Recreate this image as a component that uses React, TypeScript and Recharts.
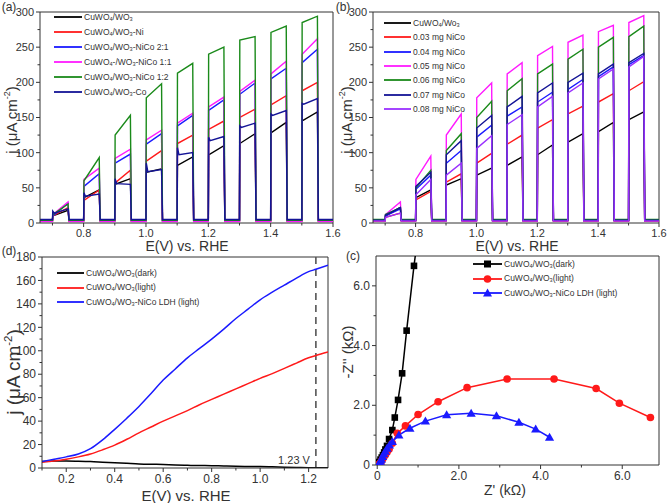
import React from "react";
import { LineChart, Line, XAxis, YAxis, ReferenceLine } from "recharts";

const FONT = "Arial, 'Liberation Sans', Helvetica, sans-serif";
const INK = "#333";

// chopped light: on at each E, off 0.05 V later
const pulseE = [0.7, 0.8, 0.9, 1.0, 1.1, 1.2, 1.3, 1.4, 1.5];
const PULSE_W = 0.05;
const chopTicks = [0.7, 0.8, 0.9, 1.0, 1.1, 1.2, 1.3, 1.4, 1.5, 1.6];
const chopMajor = [0.8, 1.0, 1.2, 1.4, 1.6];
const jTicks = [0, 25, 50, 75, 100, 125, 150, 175, 200, 225, 250, 275, 300];
const jMajor = [0, 50, 100, 150, 200, 250, 300];

// (a) current just after light on / just before light off, uA cm-2
const aBareStart = [10, 36, 55, 72, 82, 97, 113, 128, 145];
const aBareEnd = [18, 47, 63, 77, 94, 110, 127, 143, 158];
const aNiStart = [10, 32, 57, 88, 113, 133, 150, 168, 188];
const aNiEnd = [22, 47, 75, 103, 125, 145, 162, 181, 200];
const aNiCo21Start = [10, 52, 85, 112, 138, 160, 183, 205, 228];
const aNiCo21End = [28, 70, 98, 127, 153, 175, 199, 220, 247];
const aNiCo11Start = [12, 62, 92, 118, 142, 165, 187, 212, 240];
const aNiCo11End = [30, 78, 105, 132, 156, 179, 203, 230, 262];
const aNiCo12Start = [12, 60, 125, 178, 213, 240, 260, 271, 285];
const aNiCo12End = [27, 93, 153, 198, 227, 250, 265, 280, 294];
const aCoPeak = [17, 43, 63, 85, 107, 122, 138, 155, 170];
const aCoStart = [14, 38, 56, 73, 97, 117, 136, 153, 169];
const aCoEnd = [20, 41, 55, 76, 100, 123, 142, 160, 177];

// (b) NiCo loading series
const bBareStart = [10, 36, 54, 68, 82, 97, 115, 130, 147];
const bBareEnd = [22, 47, 63, 78, 94, 111, 127, 143, 158];
const b03Start = [8, 33, 58, 85, 112, 135, 155, 172, 188];
const b03End = [14, 45, 70, 99, 125, 147, 166, 184, 201];
const b04Start = [10, 48, 85, 122, 152, 172, 190, 208, 225];
const b04End = [20, 68, 103, 139, 165, 186, 204, 222, 238];
const b05Start = [12, 62, 125, 178, 212, 238, 257, 272, 285];
const b05End = [30, 95, 155, 199, 228, 251, 267, 281, 295];
const b06Start = [12, 50, 103, 150, 188, 212, 233, 250, 265];
const b06End = [22, 75, 127, 173, 205, 226, 247, 264, 280];
const b07Start = [11, 52, 97, 135, 165, 185, 200, 212, 228];
const b07End = [22, 72, 117, 153, 180, 199, 213, 226, 241];
const b08Start = [8, 40, 68, 106, 140, 165, 185, 205, 222];
const b08End = [14, 62, 85, 124, 154, 180, 199, 219, 237];

// (d) LSV, E (V vs RHE) and j (uA cm-2)
const lsvE = [0.1, 0.15, 0.2, 0.25, 0.3, 0.35, 0.4, 0.45, 0.5, 0.55, 0.6, 0.65, 0.7, 0.75, 0.8, 0.85, 0.9, 0.95, 1.0, 1.05, 1.1, 1.15, 1.2, 1.23, 1.28];
const lsvDark = [5.5, 6, 6, 5.8, 5.5, 5, 4.5, 4, 3.5, 3.2, 3, 2.6, 2.3, 2.1, 2, 1.7, 1.5, 1.3, 1.2, 1, 0.7, 0.5, 0.3, 0.3, 0.2];
const lsvLight = [5, 6, 7.5, 9.5, 12, 15.5, 19.5, 24.5, 30, 35, 40, 44.5, 49, 54, 58.5, 63, 67.5, 72, 76.5, 80.5, 85, 89.5, 94, 96, 99];
const lsvNiCo = [5.5, 7.5, 9.5, 12, 16.5, 24, 33, 42.5, 52.5, 63.5, 75, 84.5, 94, 102, 110, 118.5, 127.5, 135.5, 143.5, 150, 156, 162, 167.5, 169.5, 173];

// (c) Nyquist, Z' and -Z'' (kOhm)
const nyqDarkRe = [0.02, 0.05, 0.08, 0.11, 0.14, 0.17, 0.2, 0.24, 0.29, 0.37, 0.43, 0.51, 0.61, 0.72, 0.9, 0.96];
const nyqDarkIm = [0.03, 0.1, 0.18, 0.25, 0.33, 0.42, 0.52, 0.64, 0.87, 1.17, 1.59, 2.18, 3.07, 4.5, 6.67, 7.3];
const nyqLightRe = [0.04, 0.07, 0.1, 0.13, 0.16, 0.2, 0.24, 0.29, 0.37, 0.49, 0.69, 1.0, 1.49, 2.2, 3.18, 4.33, 5.36, 5.93, 6.69];
const nyqLightIm = [0.02, 0.06, 0.12, 0.19, 0.26, 0.34, 0.43, 0.53, 0.73, 1.06, 1.31, 1.69, 2.12, 2.59, 2.88, 2.88, 2.56, 2.07, 1.59];
const nyqNiCoRe = [0.03, 0.06, 0.08, 0.1, 0.13, 0.16, 0.2, 0.24, 0.3, 0.37, 0.53, 0.8, 1.18, 1.7, 2.3, 2.92, 3.47, 3.88, 4.22];
const nyqNiCoIm = [0.02, 0.06, 0.12, 0.19, 0.28, 0.37, 0.46, 0.56, 0.67, 0.78, 1.0, 1.23, 1.47, 1.68, 1.73, 1.65, 1.43, 1.2, 0.93];

type Pt = { x: number; y: number };

function chopped(dark: number, start: number[], end: number[], peak?: number[]): Pt[] {
  const pts: Pt[] = [{ x: 0.66, y: dark }];
  pulseE.forEach((e, i) => {
    pts.push({ x: e, y: dark });
    if (peak) pts.push({ x: e + 0.001, y: peak[i] });
    pts.push({ x: e + (peak ? 0.006 : 0.001), y: start[i] });
    pts.push({ x: e + PULSE_W, y: end[i] });
    pts.push({ x: e + PULSE_W + 0.003, y: dark });
  });
  pts.push({ x: 1.6, y: dark });
  return pts;
}

const zip = (xs: number[], ys: number[]): Pt[] => xs.map((x, i) => ({ x, y: ys[i] }));

const near = (list: number[], v: number) => list.some((m) => Math.abs(m - v) < 1e-6);

function xTick(majors: number[], fmt: (v: number) => string, fs: number) {
  return (p: any) => {
    const major = near(majors, p.payload.value);
    return (
      <g>
        <line x1={p.x} x2={p.x} y1={p.y} y2={p.y + (major ? 4 : 2.5)} stroke={INK} />
        {major && (
          <text x={p.x} y={p.y + 5 + fs * 0.8} textAnchor="middle" fontSize={fs} fill={INK} fontFamily={FONT}>
            {fmt(p.payload.value)}
          </text>
        )}
      </g>
    );
  };
}

function yTick(majors: number[], fmt: (v: number) => string, fs: number) {
  return (p: any) => {
    const major = near(majors, p.payload.value);
    return (
      <g>
        <line x1={p.x} x2={p.x - (major ? 4 : 2.5)} y1={p.y} y2={p.y} stroke={INK} />
        {major && (
          <text x={p.x - 6} y={p.y + fs * 0.35} textAnchor="end" fontSize={fs} fill={INK} fontFamily={FONT}>
            {fmt(p.payload.value)}
          </text>
        )}
      </g>
    );
  };
}

const f1 = (v: number) => v.toFixed(1);
const f0 = (v: number) => String(v);
const fz = (v: number) => (v === 0 ? "0" : v.toFixed(1));

function Txt({ x, y, fs, children, rotate }: { x: number; y: number; fs: number; children: React.ReactNode; rotate?: boolean }) {
  return (
    <div
      style={{
        position: "absolute",
        left: x,
        top: y,
        transform: `translate(-50%,-50%)${rotate ? " rotate(-90deg)" : ""}`,
        whiteSpace: "nowrap",
        fontSize: fs,
        fontFamily: FONT,
        color: INK,
        lineHeight: 1,
      }}
    >
      {children}
    </div>
  );
}

type LegItem = { label: React.ReactNode; color: string; marker?: "square" | "circle" | "triangle" };

function Legend({ x, y, step, lineW, fs, items }: { x: number; y: number; step: number; lineW: number; fs: number; items: LegItem[] }) {
  return (
    <>
      {items.map((it, i) => (
        <div key={i} style={{ position: "absolute", left: x, top: y + i * step - 6, height: 12, display: "flex", alignItems: "center", fontFamily: FONT, fontSize: fs, color: INK, whiteSpace: "nowrap" }}>
          <svg width={lineW} height={12} style={{ marginRight: 2 }}>
            <line x1={0} x2={lineW} y1={6} y2={6} stroke={it.color} strokeWidth={1.8} />
            {it.marker === "square" && <rect x={lineW / 2 - 3.5} y={2.5} width={7} height={7} fill={it.color} />}
            {it.marker === "circle" && <circle cx={lineW / 2} cy={6} r={3.8} fill={it.color} />}
            {it.marker === "triangle" && <polygon points={`${lineW / 2},1.5 ${lineW / 2 + 4.5},9.5 ${lineW / 2 - 4.5},9.5`} fill={it.color} />}
          </svg>
          <span>{it.label}</span>
        </div>
      ))}
    </>
  );
}

const S = ({ c }: { c: string }) => <sub style={{ fontSize: "0.65em", verticalAlign: "-0.25em" }}>{c}</sub>;

const jLabel = (
  <>
    j (μA cm<sup style={{ fontSize: "0.6em", verticalAlign: "0.7em" }}>-2</sup>)
  </>
);

const C = { black: "#000000", red: "#ff1a1a", blue: "#1a1aff", magenta: "#ff1aff", green: "#1a8a1a", navy: "#141496", purple: "#9a30ff" };

function chopLines(series: { data: Pt[]; color: string }[]) {
  return series.map((s, i) => (
    <Line key={i} data={s.data} dataKey="y" type="linear" stroke={s.color} strokeWidth={1.4} dot={false} isAnimationActive={false} />
  ));
}

function chopAxes(yW: number) {
  return [
    <XAxis key="x" type="number" dataKey="x" domain={[0.66, 1.6]} ticks={chopTicks} interval={0} allowDataOverflow tickLine={false} tickSize={0} tickMargin={0} tick={xTick(chopMajor, f1, 11)} axisLine={{ stroke: INK }} height={27} />,
    <YAxis key="y" type="number" domain={[0, 300]} ticks={jTicks} interval={0} allowDataOverflow tickLine={false} tickSize={0} tickMargin={0} tick={yTick(jMajor, f0, 11)} axisLine={{ stroke: INK }} width={yW} />,
    <ReferenceLine key="r" x={1.6} stroke={INK} />,
    <ReferenceLine key="t" y={300} stroke={INK} />,
  ];
}

const seriesA = [
  { data: chopped(3, aBareStart, aBareEnd), color: C.black },
  { data: chopped(3, aNiStart, aNiEnd), color: C.red },
  { data: chopped(4, aNiCo21Start, aNiCo21End), color: C.blue },
  { data: chopped(2, aNiCo11Start, aNiCo11End), color: C.magenta },
  { data: chopped(4, aNiCo12Start, aNiCo12End), color: C.green },
  { data: chopped(5, aCoStart, aCoEnd, aCoPeak), color: C.navy },
];

const seriesB = [
  { data: chopped(3, bBareStart, bBareEnd), color: C.black },
  { data: chopped(3, b03Start, b03End), color: C.red },
  { data: chopped(4, b04Start, b04End), color: C.blue },
  { data: chopped(3, b05Start, b05End), color: C.magenta },
  { data: chopped(5, b06Start, b06End), color: C.green },
  { data: chopped(4, b07Start, b07End), color: C.navy },
  { data: chopped(3, b08Start, b08End), color: C.purple },
];

const lsvTicks = [0.1, 0.2, 0.3, 0.4, 0.5, 0.6, 0.7, 0.8, 0.9, 1.0, 1.1, 1.2];
const lsvMajor = [0.2, 0.4, 0.6, 0.8, 1.0, 1.2];
const lsvJTicks = [0, 10, 20, 30, 40, 50, 60, 70, 80, 90, 100, 110, 120, 130, 140, 150, 160, 170, 180];
const lsvJMajor = [0, 20, 40, 60, 80, 100, 120, 140, 160, 180];
const zTicks = [0, 1, 2, 3, 4, 5, 6];
const zMajor = [0, 2, 4, 6];

type MarkerKind = "square" | "circle" | "triangle";
function markerDot(kind: MarkerKind, color: string) {
  return (p: any) => {
    const { cx, cy, index } = p;
    if (cx == null || cy == null) return <g key={index} />;
    if (kind === "square") return <rect key={index} x={cx - 3.3} y={cy - 3.3} width={6.6} height={6.6} fill={color} />;
    if (kind === "circle") return <circle key={index} cx={cx} cy={cy} r={3.8} fill={color} />;
    return <polygon key={index} points={`${cx},${cy - 4.6} ${cx + 4.6},${cy + 3.4} ${cx - 4.6},${cy + 3.4}`} fill={color} />;
  };
}

export default function App() {
  return (
    <div style={{ position: "absolute", left: 0, top: 0, width: 668, height: 503, background: "#fff", overflow: "hidden" }}>
      {/* (a) - extra width so the 1.6 label is not clipped */}
      <div style={{ position: "absolute", left: 0, top: 0 }}>
        <LineChart width={346} height={250} margin={{ top: 12, right: 13, left: 0, bottom: 0 }}>
          {chopAxes(40)}
          {chopLines(seriesA)}
        </LineChart>
      </div>
      {/* (b) */}
      <div style={{ position: "absolute", left: 334, top: 0 }}>
        <LineChart width={334} height={250} margin={{ top: 12, right: 9, left: 0, bottom: 0 }}>
          {chopAxes(39)}
          {chopLines(seriesB)}
        </LineChart>
      </div>
      {/* (d) */}
      <div style={{ position: "absolute", left: 0, top: 250 }}>
        <LineChart width={334} height={253} margin={{ top: 7, right: 6, left: 0, bottom: 0 }}>
          <XAxis type="number" dataKey="x" domain={[0.1, 1.28]} ticks={lsvTicks} interval={0} allowDataOverflow tickLine={false} tickSize={0} tickMargin={0} tick={xTick(lsvMajor, f1, 12)} axisLine={{ stroke: INK }} height={35} />
          <YAxis type="number" domain={[0, 180]} ticks={lsvJTicks} interval={0} allowDataOverflow tickLine={false} tickSize={0} tickMargin={0} tick={yTick(lsvJMajor, f0, 12)} axisLine={{ stroke: INK }} width={42} />
          <ReferenceLine x={1.28} stroke={INK} />
          <ReferenceLine y={180} stroke={INK} />
          <ReferenceLine x={1.23} stroke="#555" strokeWidth={1.6} strokeDasharray="7 5" />
          <Line data={zip(lsvE, lsvDark)} dataKey="y" type="monotone" stroke={C.black} strokeWidth={1.5} dot={false} isAnimationActive={false} />
          <Line data={zip(lsvE, lsvLight)} dataKey="y" type="monotone" stroke={C.red} strokeWidth={1.5} dot={false} isAnimationActive={false} />
          <Line data={zip(lsvE, lsvNiCo)} dataKey="y" type="monotone" stroke={C.blue} strokeWidth={1.5} dot={false} isAnimationActive={false} />
        </LineChart>
      </div>
      {/* (c) */}
      <div style={{ position: "absolute", left: 334, top: 250 }}>
        <LineChart width={334} height={253} margin={{ top: 6, right: 9, left: 0, bottom: 0 }}>
          <XAxis type="number" dataKey="x" domain={[-0.03, 6.9]} ticks={zTicks} interval={0} allowDataOverflow tickLine={false} tickSize={0} tickMargin={0} tick={xTick(zMajor, fz, 12)} axisLine={{ stroke: INK }} height={38} />
          <YAxis type="number" domain={[0, 7]} ticks={zTicks} interval={0} allowDataOverflow tickLine={false} tickSize={0} tickMargin={0} tick={yTick(zMajor, fz, 12)} axisLine={{ stroke: INK }} width={42} />
          <ReferenceLine x={6.9} stroke={INK} />
          <ReferenceLine y={7} stroke={INK} />
          <Line data={zip(nyqDarkRe, nyqDarkIm)} dataKey="y" type="linear" stroke={C.black} strokeWidth={1.5} dot={markerDot("square", C.black)} isAnimationActive={false} />
          <Line data={zip(nyqLightRe, nyqLightIm)} dataKey="y" type="linear" stroke={C.red} strokeWidth={1.5} dot={markerDot("circle", C.red)} isAnimationActive={false} />
          <Line data={zip(nyqNiCoRe, nyqNiCoIm)} dataKey="y" type="linear" stroke={C.blue} strokeWidth={1.5} dot={markerDot("triangle", C.blue)} isAnimationActive={false} />
        </LineChart>
      </div>

      {/* panel letters */}
      <Txt x={9} y={7} fs={12}>(a)</Txt>
      <Txt x={343} y={7} fs={12}>(b)</Txt>
      <Txt x={9} y={251} fs={12}>(d)</Txt>
      <Txt x={353} y={256} fs={12}>(c)</Txt>

      {/* axis titles */}
      <Txt x={187} y={246} fs={14}>E(V) vs. RHE</Txt>
      <Txt x={517} y={246} fs={14}>E(V) vs. RHE</Txt>
      <Txt x={186} y={495} fs={15}>E(V) vs. RHE</Txt>
      <Txt x={505} y={490} fs={14}>Z' (kΩ)</Txt>
      <Txt x={11} y={120} fs={15} rotate>{jLabel}</Txt>
      <Txt x={346} y={120} fs={15} rotate>{jLabel}</Txt>
      <Txt x={13} y={372} fs={19} rotate>{jLabel}</Txt>
      <Txt x={347} y={352} fs={15} rotate>-Z'' (kΩ)</Txt>
      <Txt x={294} y={460} fs={11}>1.23 V</Txt>

      <Legend
        x={54}
        y={17}
        step={15}
        lineW={28}
        fs={8.5}
        items={[
          { label: <>CuWO<S c="4" />/WO<S c="3" /></>, color: C.black },
          { label: <>CuWO<S c="4" />/WO<S c="3" />-Ni</>, color: C.red },
          { label: <>CuWO<S c="4" />/WO<S c="3" />-NiCo 2:1</>, color: C.blue },
          { label: <>CuWO<S c="4" />-/WO<S c="3" />-NiCo 1:1</>, color: C.magenta },
          { label: <>CuWO<S c="4" />/WO<S c="3" />-NiCo 1:2</>, color: C.green },
          { label: <>CuWO<S c="4" />/WO<S c="3" />-Co</>, color: C.navy },
        ]}
      />
      <Legend
        x={384}
        y={23}
        step={14.3}
        lineW={27}
        fs={8.5}
        items={[
          { label: <>CuWO<S c="4" />/Wo<S c="3" /></>, color: C.black },
          { label: "0.03 mg NiCo", color: C.red },
          { label: "0.04 mg NiCo", color: C.blue },
          { label: "0.05 mg NiCo", color: C.magenta },
          { label: "0.06 mg NiCo", color: C.green },
          { label: "0.07 mg NiCo", color: C.navy },
          { label: "0.08 mg NiCo", color: C.purple },
        ]}
      />
      <Legend
        x={57}
        y={273}
        step={14.5}
        lineW={27}
        fs={8.5}
        items={[
          { label: <>CuWO<S c="4" />/WO<S c="3" />(dark)</>, color: C.black },
          { label: <>CuWO<S c="4" />/WO<S c="3" />(light)</>, color: C.red },
          { label: <>CuWO<S c="4" />/WO<S c="3" />-NiCo LDH (light)</>, color: C.blue },
        ]}
      />
      <Legend
        x={473}
        y={264}
        step={14.5}
        lineW={29}
        fs={8.5}
        items={[
          { label: <>CuWO<S c="4" />/WO<S c="3" />(dark)</>, color: C.black, marker: "square" },
          { label: <>CuWO<S c="4" />/WO<S c="3" />(light)</>, color: C.red, marker: "circle" },
          { label: <>CuWO<S c="4" />/WO<S c="3" />-NiCo LDH (light)</>, color: C.blue, marker: "triangle" },
        ]}
      />
    </div>
  );
}
